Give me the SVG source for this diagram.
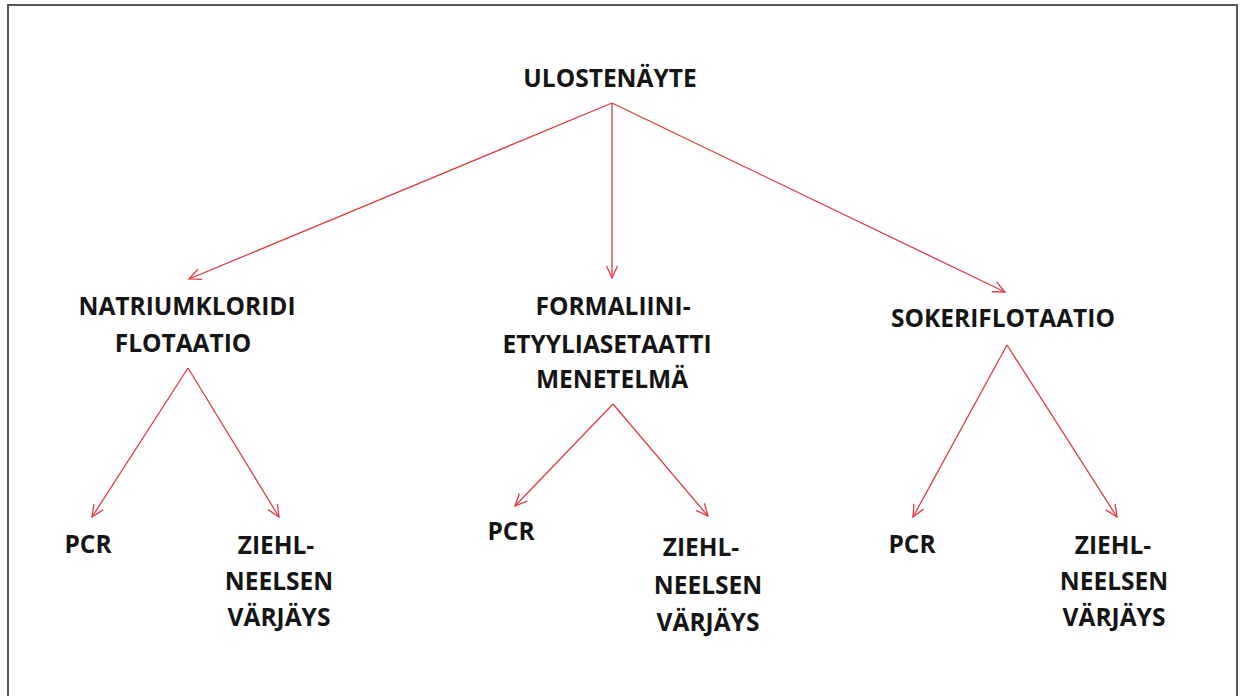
<svg xmlns="http://www.w3.org/2000/svg" width="1242" height="696" viewBox="0 0 1242 696">
  <style>
    .t { font-family: "Open Sans", "Noto Sans", sans-serif; font-weight: 700; font-size: 24.5px; fill: #151515; text-anchor: middle; }
    .c { stroke: #de3b44; stroke-width: 1.3; fill: none; marker-end: url(#ah); }
  </style>
  <defs>
    <marker id="ah" markerUnits="userSpaceOnUse" markerWidth="16" markerHeight="16" refX="13" refY="6" orient="auto" viewBox="0 0 16 12">
      <path d="M1,0.5 L13,6 L1,11.5" fill="none" stroke="#de3b44" stroke-width="1.3"/>
    </marker>
  </defs>
  <rect x="0" y="0" width="1242" height="696" fill="#ffffff"/>
  <rect x="8" y="5" width="1229" height="700" fill="none" stroke="#555555" stroke-width="2"/>

  <g id="connectors">
    <line class="c" x1="612" y1="103" x2="189" y2="279"/>
    <line class="c" x1="612" y1="103" x2="612" y2="278"/>
    <line class="c" x1="612" y1="103" x2="1005" y2="292"/>
    <line class="c" x1="188" y1="368" x2="92" y2="517"/>
    <line class="c" x1="188" y1="368" x2="279" y2="517"/>
    <line class="c" x1="613" y1="404" x2="515" y2="506"/>
    <line class="c" x1="613" y1="404" x2="708" y2="516"/>
    <line class="c" x1="1007" y1="345" x2="913" y2="517"/>
    <line class="c" x1="1007" y1="345" x2="1117" y2="517"/>
  </g>

  <g id="node-root">
    <text class="t" x="610" y="87">ULOSTENÄYTE</text>
  </g>
  <g id="node-natrium">
    <text class="t" x="187" y="315">NATRIUMKLORIDI</text>
    <text class="t" x="183" y="352">FLOTAATIO</text>
  </g>
  <g id="node-formaliini">
    <text class="t" x="613" y="315">FORMALIINI-</text>
    <text class="t" x="607" y="353">ETYYLIASETAATTI</text>
    <text class="t" x="612" y="388">MENETELMÄ</text>
  </g>
  <g id="node-sokeri">
    <text class="t" x="1003" y="327">SOKERIFLOTAATIO</text>
  </g>

  <g id="node-pcr1">
    <text class="t" x="88" y="553">PCR</text>
  </g>
  <g id="node-zn1">
    <text class="t" x="276" y="554">ZIEHL-</text>
    <text class="t" x="279" y="590">NEELSEN</text>
    <text class="t" x="279" y="626">VÄRJÄYS</text>
  </g>
  <g id="node-pcr2">
    <text class="t" x="511" y="540">PCR</text>
  </g>
  <g id="node-zn2">
    <text class="t" x="701" y="556">ZIEHL-</text>
    <text class="t" x="708" y="594">NEELSEN</text>
    <text class="t" x="708" y="631">VÄRJÄYS</text>
  </g>
  <g id="node-pcr3">
    <text class="t" x="912" y="553">PCR</text>
  </g>
  <g id="node-zn3">
    <text class="t" x="1113" y="554">ZIEHL-</text>
    <text class="t" x="1114" y="590">NEELSEN</text>
    <text class="t" x="1114" y="626">VÄRJÄYS</text>
  </g>
</svg>
